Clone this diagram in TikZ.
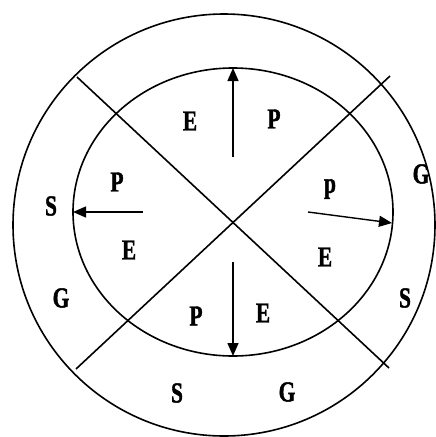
\documentclass[tikz,border=0pt]{standalone}
\usepackage{fontspec}
\setmainfont{Liberation Serif}
\newfontfamily\lblfont[FakeBold=1.6]{Liberation Serif Bold}
\usetikzlibrary{arrows.meta}
\begin{document}
\begin{tikzpicture}[x=1pt,y=-1pt,
  ring/.style={line width=1.6pt},
  ray/.style={line width=1.4pt,-{Triangle[length=13pt,width=11pt]}},
  lbl/.style={font=\lblfont\fontsize{29}{31}\selectfont,inner sep=0pt,xscale=0.74}]
\useasboundingbox (0,0) rectangle (436,437);
\draw[ring] (224,225) circle (211);
\draw[ring] (233,212) ellipse [x radius=160, y radius=144];
\coordinate (a1) at (77,77);
\coordinate (a2) at (389,368);
\coordinate (b1) at (390,76);
\coordinate (b2) at (76,369);
\draw[ring] (a1) -- (a2);
\draw[ring] (b1) -- (b2);
% arrows
\coordinate (ts) at (233,157); \coordinate (te) at (233,68);
\coordinate (ls) at (143,212); \coordinate (le) at (73,212);
\coordinate (rs) at (308,212); \coordinate (re) at (392,223);
\coordinate (bs) at (233,262); \coordinate (be) at (233,356);
\draw[ray] (ts) -- (te);
\draw[ray] (ls) -- (le);
\draw[ray] (rs) -- (re);
\draw[ray] (bs) -- (be);
% labels
\node[lbl] (e1) at (190,121) {E};
\node[lbl] (p1) at (274,119) {P};
\node[lbl] (p2) at (117,182) {P};
\node[lbl] (s1) at (51,206) {S};
\node[lbl] (e2) at (129,250) {E};
\node[lbl] (p3) at (330,189) {p};
\node[lbl] (g1) at (421,174) {G};
\node[lbl] (e3) at (325,257) {E};
\node[lbl] (s2) at (405,298) {S};
\node[lbl] (g2) at (61,298) {G};
\node[lbl] (p4) at (196,316) {P};
\node[lbl] (e4) at (263,313) {E};
\node[lbl] (s3) at (177,393) {S};
\node[lbl] (g3) at (287,392) {G};
\end{tikzpicture}
\end{document}
